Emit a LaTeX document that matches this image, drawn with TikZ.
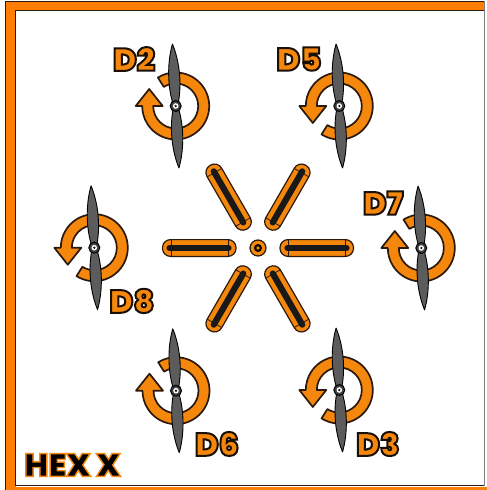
\documentclass[tikz,border=0pt]{standalone}
\usepackage{fontspec}
\newfontfamily\heavyfont{Poppins Black}
\usetikzlibrary{positioning}
\definecolor{motororange}{HTML}{F5870C}
\definecolor{frameorange}{HTML}{FF7F05}
\definecolor{darkline}{HTML}{2B1A0C}
\definecolor{bladegray}{HTML}{5C5C5C}
\newcommand{\strokedtext}[2]{\special{pdf:code 2 Tr #1 w #2 RG}}
\newcommand{\plaintext}{\special{pdf:code 0 Tr}}
\begin{document}
\begin{tikzpicture}[x=1pt,y=1pt,
 ringarrow/.style={draw=darkline,fill=motororange,line width=1.7pt,line join=round},
 blade/.style={draw=black,fill=bladegray,line width=0.9pt,line join=round},
 armbar/.style={draw=darkline,fill=motororange,line width=1.2pt},
 motorlabel/.style={inner sep=0pt,text=motororange,font=\heavyfont\fontsize{32}{32}\selectfont},
 framelabel/.style={inner sep=0pt,text=black,font=\heavyfont\fontsize{32}{32}\selectfont}]
\useasboundingbox (0,0) rectangle (487,-490);
\fill[white] (0,0) rectangle (487,-490);
\fill[frameorange] (6,-1.5) rectangle (484,-10);
\fill[frameorange] (6,-1.5) rectangle (15.5,-490);
\fill[frameorange] (6,-487) rectangle (487,-490);
\draw[darkline,line width=1pt] (484,-1) -- (5.5,-1) -- (5.5,-490);
\draw[darkline,line width=1pt] (484,-10) -- (15.5,-10) -- (15.5,-485) -- (484,-485);
\draw[gray,line width=1pt] (484,-1) -- (484,-486);
\foreach \armangle in {0,60,...,300} {
 \begin{scope}[shift={(258,-248)},rotate=\armangle]
 \draw[armbar,rounded corners=8pt] (22,-8.4) rectangle (95.5,8.4);
 \draw[darkline,line width=0.8pt] (30,-8.4) -- (30,8.4) (87,-8.4) -- (87,8.4);
 \draw[black!90,line width=6.2pt,line cap=round] (29.5,0) -- (88.5,0);
 \end{scope}
}
\node[circle,draw=darkline,fill=motororange,line width=1.2pt,minimum size=16pt,inner sep=0pt] (center) at (258,-248) {};
\node[circle,fill=black,minimum size=8pt,inner sep=0pt] (centerhole) at (center) {};
\node[circle,fill=motororange,minimum size=3.6pt,inner sep=0pt] (centerdot) at (center) {};
\foreach \name/\mx/\my/\spin in {D2/175.7/-106/1,D5/339.3/-106/-1,D7/421.3/-248/1,D8/94.3/-247.7/-1,D6/176/-390.7/1,D3/339.3/-390/-1} {
 \begin{scope}[shift={(\mx,\my)}]
 \begin{scope}[yscale=\spin]
 \draw[ringarrow] (122:33.5) arc[start angle=122,end angle=-180,radius=33.5] -- (-40,0) -- (-26.5,17) -- (-13,0) -- (-22.5,0) arc[start angle=-180,end angle=122,radius=22.5] -- cycle;
 \end{scope}
 \begin{scope}[rotate=3]
 \draw[blade] (-3,4) .. controls (-7.5,24) and (-5.5,46) .. (0,62) .. controls (5,48) and (8,26) .. (3,4) -- cycle;
 \draw[blade] (-3,-4) .. controls (-8,-26) and (-5,-48) .. (0,-62) .. controls (5.5,-46) and (7.5,-24) .. (3,-4) -- cycle;
 \end{scope}
 \node[circle,draw=black,fill=bladegray!70!black,line width=1pt,minimum size=11pt,inner sep=0pt] (hub\name) at (0,0) {};
 \node[circle,fill=white,minimum size=5.6pt,inner sep=0pt] (hubring\name) at (0,0) {};
 \node[circle,fill=darkline,minimum size=2.6pt,inner sep=0pt] (hubdot\name) at (0,0) {};
 \end{scope}
}
\foreach \name/\lx/\ly in {D2/134/-59,D5/299/-59,D7/383/-203,D8/132/-301,D6/217/-444,D3/378/-444} {
 \node[motorlabel] (label\name) at (\lx,\ly) {\strokedtext{2}{0.1 0.06 0.02}\name\plaintext};
}
\node[framelabel] (hexlabel) at (72.5,-465) {\strokedtext{1.4}{0.96 0.53 0.05}HEX X\plaintext};
\end{tikzpicture}
\end{document}
